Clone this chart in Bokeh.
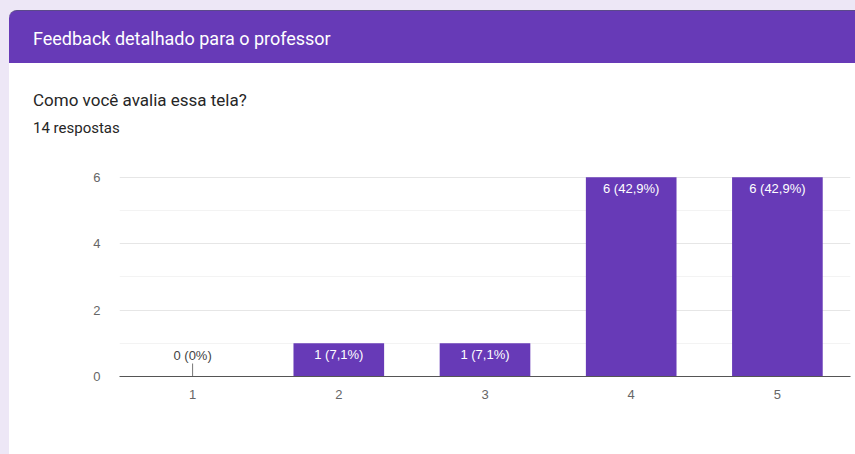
import math
from bokeh.plotting import figure
from bokeh.models import Div, Spacer, FixedTicker, ColumnDataSource
from bokeh.layouts import row, column
from bokeh.core.properties import value
from bokeh.embed import file_html
from bokeh.resources import INLINE

# ---- data ----
categories = [1, 2, 3, 4, 5]
counts = [0, 1, 1, 6, 6]
bar_labels = ["0 (0%)", "1 (7,1%)", "1 (7,1%)", "6 (42,9%)", "6 (42,9%)"]
y_ticks = [0, 2, 4, 6]
y_minor = [1, 3, 5]
header_title = "Feedback detalhado para o professor"
question = "Como você avalia essa tela?"
responses = "14 respostas"

PURPLE = "#673ab7"
LAVENDER = "#ede7f6"
CHART_FONT = "Liberation Sans"

# ---- header card (HTML) ----
header_html = f"""
<div style="position:relative;width:846px;height:150px;background:{LAVENDER};overflow:hidden;">
  <div style="position:absolute;left:0;top:10px;width:846px;height:140px;background:#ffffff;border-top-left-radius:8px;"></div>
  <div style="position:absolute;left:0;top:10px;width:846px;height:53px;background:{PURPLE};border-top-left-radius:8px;border-top:1px solid #5b4a8a;box-sizing:border-box;"></div>
  <div style="position:absolute;left:24px;top:30px;font-family:Roboto;font-size:18px;line-height:18px;color:#ffffff;white-space:nowrap;">{header_title}</div>
  <div style="position:absolute;left:24px;top:92px;font-family:Roboto;font-size:17px;line-height:17px;color:#262626;white-space:nowrap;">{question}</div>
  <div style="position:absolute;left:24px;top:121px;font-family:Roboto;font-size:15px;line-height:15px;color:#262626;white-space:nowrap;">{responses}</div>
</div>
"""
header = Div(text=header_html, width=846, height=150, margin=(0, 0, 0, 0))

# ---- chart ----
p = figure(width=846, height=304, output_backend="svg", toolbar_location=None,
           x_range=(0.5, 5.5), y_range=(0, 6.02),
           min_border_left=110, min_border_right=5, min_border_top=26, min_border_bottom=78,
           background_fill_color="#ffffff", border_fill_color="#ffffff", outline_line_color=None)
p.margin = (0, 0, 0, 0)

src = ColumnDataSource(dict(x=categories, top=counts, label=bar_labels))
p.vbar(x="x", top="top", width=0.62, bottom=0, source=src, fill_color=PURPLE, line_color=None)

pos = [i for i, c in enumerate(counts) if c > 0]
zero = [i for i, c in enumerate(counts) if c == 0]
p.text(x=[categories[i] for i in pos], y=[counts[i] for i in pos], text=[bar_labels[i] for i in pos],
       text_align="center", text_baseline="top", y_offset=4, text_color="#ffffff",
       text_font=value(CHART_FONT), text_font_size="13px")
p.text(x=[categories[i] for i in zero], y=[counts[i] for i in zero], text=[bar_labels[i] for i in zero],
       text_align="center", text_baseline="bottom", y_offset=-14, text_color="#444444",
       text_font=value(CHART_FONT), text_font_size="13px")
p.ray(x=[categories[i] for i in zero], y=[counts[i] for i in zero], length=13, length_units="screen",
      angle=math.pi / 2, line_color="#777777", line_width=1)

p.xaxis.ticker = FixedTicker(ticks=categories)
p.xaxis.axis_line_color = "#555555"
p.xaxis.major_tick_line_color = None
p.xaxis.minor_tick_line_color = None
p.xaxis.major_label_standoff = 7
p.xaxis.major_label_text_font = CHART_FONT
p.xaxis.major_label_text_font_size = "13px"
p.xaxis.major_label_text_color = "#666666"

p.yaxis.ticker = FixedTicker(ticks=y_ticks, minor_ticks=y_minor)
p.yaxis.axis_line_color = None
p.yaxis.major_tick_line_color = None
p.yaxis.minor_tick_line_color = None
p.yaxis.major_label_standoff = 13
p.yaxis.major_label_text_font = CHART_FONT
p.yaxis.major_label_text_font_size = "13px"
p.yaxis.major_label_text_color = "#666666"

p.xgrid.grid_line_color = None
p.ygrid.grid_line_color = "#e6e6e6"
p.ygrid.minor_grid_line_color = "#f3f3f3"

left_strip = Spacer(width=9, height=454, styles={"background-color": LAVENDER}, margin=(0, 0, 0, 0))
layout = row(left_strip, column(header, p, spacing=0), spacing=0)

open("out.html", "w").write(file_html(layout, INLINE))
